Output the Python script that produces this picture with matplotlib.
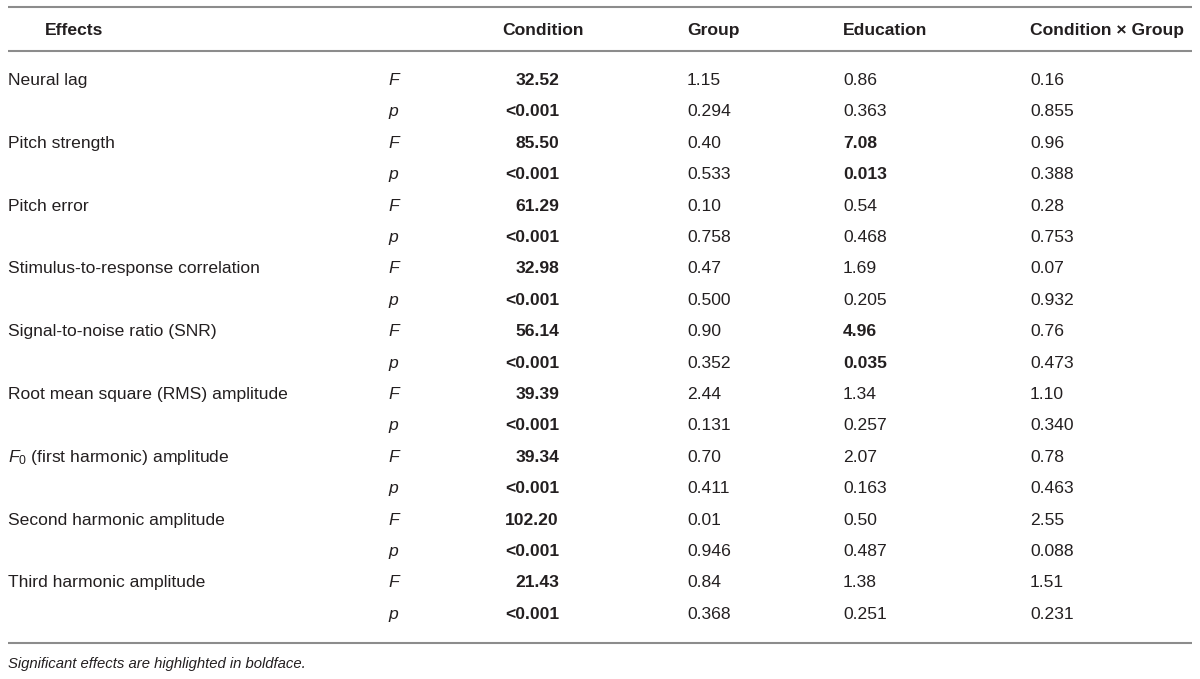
import matplotlib.pyplot as plt

effects = [
    "Neural lag",
    "Pitch strength",
    "Pitch error",
    "Stimulus-to-response correlation",
    "Signal-to-noise ratio (SNR)",
    "Root mean square (RMS) amplitude",
    r"$F_0$ (first harmonic) amplitude",
    "Second harmonic amplitude",
    "Third harmonic amplitude",
]
columns = ["Condition", "Group", "Education", "Condition \u00d7 Group"]

cond_F = ["32.52", "85.50", "61.29", "32.98", "56.14", "39.39", "39.34", "102.20", "21.43"]
cond_p = ["<0.001"] * 9
group_F = ["1.15", "0.40", "0.10", "0.47", "0.90", "2.44", "0.70", "0.01", "0.84"]
group_p = ["0.294", "0.533", "0.758", "0.500", "0.352", "0.131", "0.411", "0.946", "0.368"]
edu_F = ["0.86", "7.08", "0.54", "1.69", "4.96", "1.34", "2.07", "0.50", "1.38"]
edu_p = ["0.363", "0.013", "0.468", "0.205", "0.035", "0.257", "0.163", "0.487", "0.251"]
inter_F = ["0.16", "0.96", "0.28", "0.07", "0.76", "1.10", "0.78", "2.55", "1.51"]
inter_p = ["0.855", "0.388", "0.753", "0.932", "0.473", "0.340", "0.463", "0.088", "0.231"]

# which cells are significant (bold)
bold_edu = {1, 4}

footnote = "Significant effects are highlighted in boldface."

plt.rcParams['font.family'] = ['Liberation Sans', 'DejaVu Sans']
plt.rcParams['mathtext.fontset'] = 'custom'
plt.rcParams['mathtext.it'] = 'Liberation Sans:italic'
plt.rcParams['mathtext.rm'] = 'Liberation Sans'

fig = plt.figure(figsize=(12, 6.79), dpi=100)
ax = fig.add_axes([0, 0, 1, 1])
ax.set_xlim(0, 1200)
ax.set_ylim(679, 0)
ax.axis('off')

txt = '#231f20'
line_c = '#8c8c8c'
fs = 12.6
kw = dict(fontsize=fs, color=txt, va='baseline')

# rules
for y in (7, 51, 643):
    ax.plot([8, 1192], [y, y], color=line_c, lw=1.5, solid_capstyle='butt')

# header
ax.text(45, 35, "Effects", fontweight='bold', **kw)
ax.text(543, 35, columns[0], fontweight='bold', ha='center', **kw)
ax.text(687, 35, columns[1], fontweight='bold', **kw)
ax.text(843, 35, columns[2], fontweight='bold', **kw)
ax.text(1030, 35, columns[3], fontweight='bold', **kw)

y0 = 85
step = 31.4
for i, name in enumerate(effects):
    yF = y0 + 2 * i * step
    yp = yF + step
    ax.text(8, yF, name, **kw)
    ax.text(388, yF, "F", style='italic', **kw)
    ax.text(388, yp, "p", style='italic', **kw)
    ax.text(559, yF, cond_F[i], fontweight='bold', ha='right', **kw)
    ax.text(559, yp, cond_p[i], fontweight='bold', ha='right', **kw)
    ax.text(687, yF, group_F[i], **kw)
    ax.text(687, yp, group_p[i], **kw)
    w = 'bold' if i in bold_edu else 'normal'
    ax.text(843, yF, edu_F[i], fontweight=w, **kw)
    ax.text(843, yp, edu_p[i], fontweight=w, **kw)
    ax.text(1030, yF, inter_F[i], **kw)
    ax.text(1030, yp, inter_p[i], **kw)

ax.text(8, 668, footnote, fontsize=10.7, style='italic', color=txt, va='baseline')

fig.savefig("out.png", dpi=100)
